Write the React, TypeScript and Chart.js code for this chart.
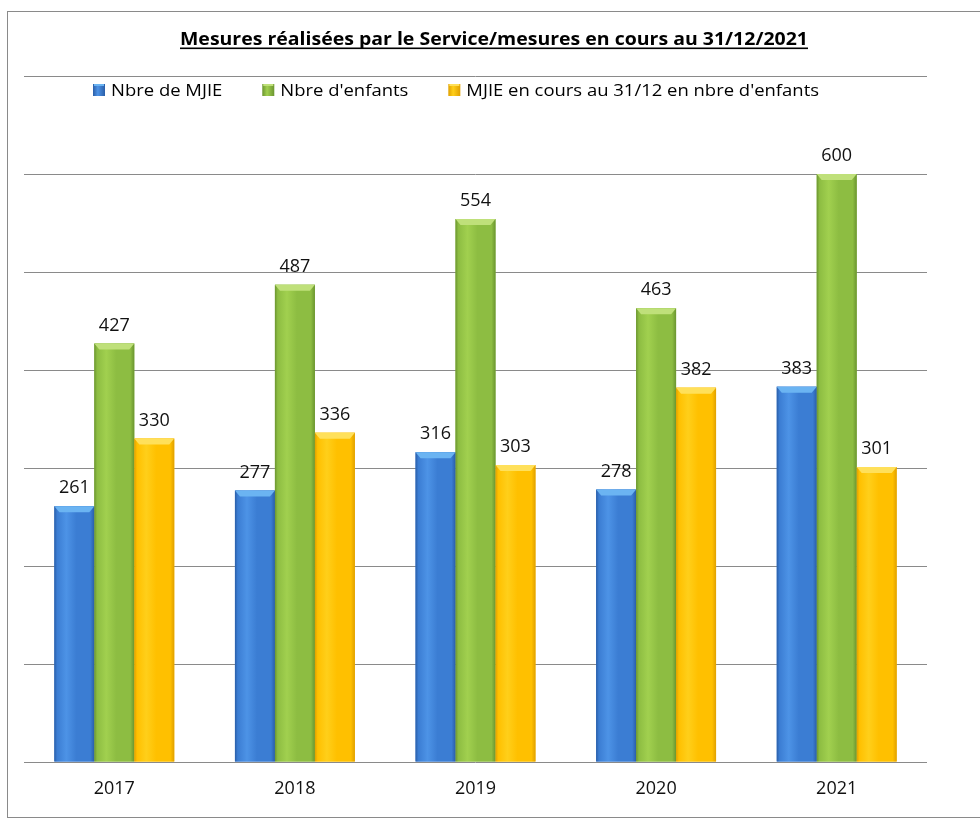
import React, { useEffect, useRef } from "react";
import { Chart, registerables } from "chart.js";

Chart.register(...registerables);

// ---- data ----
const years = ["2017", "2018", "2019", "2020", "2021"];
const seriesNames = ["Nbre de MJIE", "Nbre d'enfants", "MJIE en cours au 31/12 en nbre d'enfants"];
const nbreMJIE = [261, 277, 316, 278, 383];
const nbreEnfants = [427, 487, 554, 463, 600];
const mjieEnCours = [330, 336, 303, 382, 301];
const yMin = 0;
const yMax = 700;
const yStep = 100;
const chartTitle = "Mesures réalisées par le Service/mesures en cours au 31/12/2021";

// ---- styles ----
const palettes = [
  { base: "#3b7dd3", light: "#4d93e6", dark: "#2a5ea8", top: "#6bb4f2" },
  { base: "#8dbd42", light: "#a1d04f", dark: "#6b9530", top: "#bfe07a" },
  { base: "#ffc000", light: "#ffcf1a", dark: "#e0a000", top: "#ffe05a" },
];
const FONT = '"Open Sans", "DejaVu Sans", sans-serif';

const decorPlugin = {
  id: "decor",
  beforeDraw(chart: any) {
    const ctx = chart.ctx;
    ctx.save();
    ctx.fillStyle = "#ffffff";
    ctx.fillRect(0, 0, chart.width, chart.height);
    ctx.restore();
  },
  afterDatasetsDraw(chart: any) {
    const ctx = chart.ctx;
    ctx.save();
    chart.data.datasets.forEach((ds: any, di: number) => {
      const pal = palettes[di];
      const meta = chart.getDatasetMeta(di);
      meta.data.forEach((el: any, i: number) => {
        const { x, y, base, width } = el.getProps(["x", "y", "base", "width"], true);
        const l = x - width / 2;
        const r = x + width / 2;
        const g = ctx.createLinearGradient(l, 0, r, 0);
        g.addColorStop(0, pal.dark);
        g.addColorStop(0.07, pal.base);
        g.addColorStop(0.3, pal.light);
        g.addColorStop(0.55, pal.base);
        g.addColorStop(0.9, pal.base);
        g.addColorStop(1, pal.dark);
        ctx.fillStyle = g;
        ctx.fillRect(l, y, width, base - y);
        // top bevel
        const bh = 6;
        ctx.fillStyle = pal.top;
        ctx.beginPath();
        ctx.moveTo(l, y);
        ctx.lineTo(r, y);
        ctx.lineTo(r - 5, y + bh);
        ctx.lineTo(l + 5, y + bh);
        ctx.closePath();
        ctx.fill();
        // value label
        ctx.fillStyle = "#111";
        ctx.font = "18px " + FONT;
        ctx.textAlign = "center";
        ctx.textBaseline = "alphabetic";
        ctx.fillText(String(ds.data[i]), x, y - 13);
      });
    });
    ctx.restore();
  },
  afterDraw(chart: any) {
    const ctx = chart.ctx;
    ctx.save();
    // outer frame
    ctx.strokeStyle = "#8a8a8a";
    ctx.lineWidth = 1;
    ctx.strokeRect(7.5, 11.5, 1000, 806);

    // title (bold, underlined)
    ctx.font = "bold 18px " + FONT;
    const tw = ctx.measureText(chartTitle).width;
    const targetW = 628;
    const s = targetW / tw;
    const cx = 494;
    ctx.fillStyle = "#000";
    ctx.textBaseline = "alphabetic";
    ctx.textAlign = "left";
    ctx.save();
    ctx.translate(cx - targetW / 2, 45);
    ctx.scale(s, 1);
    ctx.fillText(chartTitle, 0, 0);
    ctx.restore();
    ctx.fillRect(cx - targetW / 2, 47.5, targetW, 1.6);

    // legend
    ctx.font = "16px " + FONT;
    const widths = seriesNames.map((n) => ctx.measureText(n).width);
    const sum = widths.reduce((a, b) => a + b, 0);
    const ls = 592 / sum;
    let lx = 93;
    const ly = 96;
    seriesNames.forEach((name, i) => {
      const pal = palettes[i];
      const bx = lx, by = ly - 12, bs = 12;
      const g = ctx.createLinearGradient(bx, 0, bx + bs, 0);
      g.addColorStop(0, pal.dark);
      g.addColorStop(0.4, pal.light);
      g.addColorStop(1, pal.dark);
      ctx.fillStyle = g;
      ctx.fillRect(bx, by, bs, bs);
      ctx.fillStyle = pal.top;
      ctx.fillRect(bx + 1, by, bs - 2, 2);
      ctx.fillStyle = "#000";
      ctx.save();
      ctx.translate(bx + bs + 6, ly);
      ctx.scale(ls, 1);
      ctx.fillText(name, 0, 0);
      ctx.restore();
      lx = bx + bs + 6 + widths[i] * ls + 40;
    });
    ctx.restore();
  },
};

export default function App() {
  const ref = useRef<HTMLCanvasElement | null>(null);
  useEffect(() => {
    if (!ref.current) return;
    const chart = new Chart(ref.current, {
      type: "bar",
      data: {
        labels: years,
        datasets: [
          { label: seriesNames[0], data: nbreMJIE, backgroundColor: palettes[0].base },
          { label: seriesNames[1], data: nbreEnfants, backgroundColor: palettes[1].base },
          { label: seriesNames[2], data: mjieEnCours, backgroundColor: palettes[2].base },
        ],
      },
      options: {
        responsive: false,
        animation: false,
        events: [],
        layout: { padding: { left: 24, right: 53, top: 76, bottom: 0 } },
        datasets: { bar: { categoryPercentage: 0.664, barPercentage: 1.0 } } as any,
        plugins: {
          legend: { display: false },
          title: { display: false },
          tooltip: { enabled: false },
        },
        scales: {
          x: {
            grid: { display: false, drawTicks: false },
            border: { display: false },
            ticks: { color: "#111", font: { family: FONT, size: 18 }, padding: 16 },
            afterFit: (scale: any) => {
              scale.height = 58;
            },
          },
          y: {
            min: yMin,
            max: yMax,
            ticks: { stepSize: yStep, display: false },
            grid: { color: "#8a8a8a", lineWidth: 1, drawTicks: false },
            border: { display: false },
            afterFit: (scale: any) => {
              scale.width = 0;
            },
          },
        },
      },
      plugins: [decorPlugin],
    });
    return () => chart.destroy();
  }, []);
  return (
    <div style={{ position: "absolute", left: 0, top: 0, width: 980, height: 820, background: "#fff" }}>
      <canvas ref={ref} width={980} height={820} style={{ display: "block" }} />
    </div>
  );
}
